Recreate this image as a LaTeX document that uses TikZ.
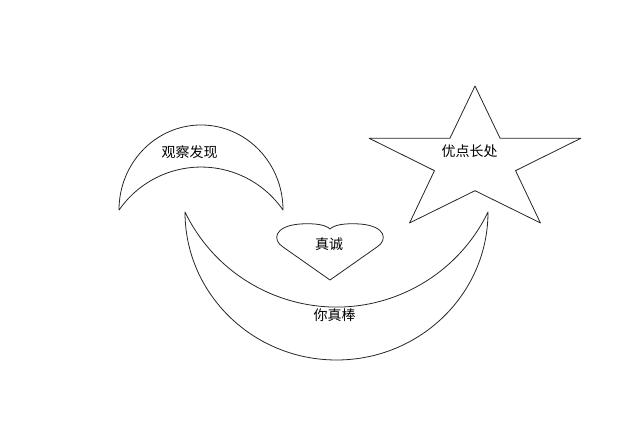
\documentclass[tikz,border=0pt]{standalone}
\usepackage{fontspec}
\newfontfamily\cjk{Noto Sans CJK SC}
\usepackage{tikz}
\usetikzlibrary{positioning}

\begin{document}
\begin{tikzpicture}[
    x=1pt, y=1pt,
    outline/.style={draw=black!85, line width=0.8pt, line join=round},
    label/.style={font=\cjk\fontsize{14}{16}\selectfont, inner sep=0pt, text=black}
]
    \useasboundingbox (0,0) rectangle (639,433);

    % small moon
    \draw[outline] (119,223) arc[start angle=180, end angle=0, x radius=82, y radius=85]
        arc[start angle=34.7, end angle=145.3, radius=99.7] -- cycle;

    % big moon
    \draw[outline] (488,221) arc[start angle=0, end angle=-180, x radius=151.5, y radius=148]
        arc[start angle=205.8, end angle=334.2, radius=168.3] -- cycle;

    % star
    \begin{scope}[shift={(475,271.3)}, xscale=1.47]
        \draw[outline] (90:75.7) -- (126:29) -- (162:75.7) -- (198:29) -- (234:75.7)
            -- (270:29) -- (306:75.7) -- (342:29) -- (18:75.7) -- (54:29) -- cycle;
    \end{scope}

    % heart
    \draw[outline] (330,153) -- (283,186) .. controls (272,193) and (274,207) .. (300,209)
        .. controls (316,210) and (326,208) .. (330,204)
        .. controls (334,208) and (344,210) .. (360,209)
        .. controls (386,207) and (388,193) .. (377,186) -- cycle;

    \node[label] (guancha) at (189.5,280.5) {观察发现};
    \node[label] (youdian) at (469.5,281.5) {优点长处};
    \node[label] (zhencheng) at (329,188.5) {真诚};
    \node[label] (zhenbang) at (334.5,117.5) {你真棒};
\end{tikzpicture}
\end{document}
